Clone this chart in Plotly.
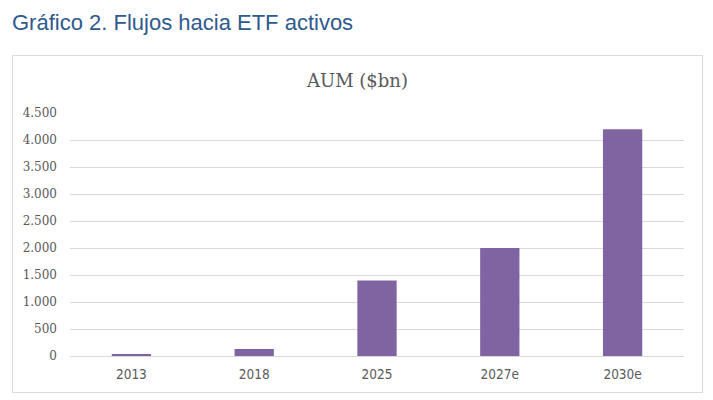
import plotly.graph_objects as go

years = ["2013", "2018", "2025", "2027e", "2030e"]
aum = [20, 130, 1400, 2000, 4200]
y_ticks = [0, 500, 1000, 1500, 2000, 2500, 3000, 3500, 4000, 4500]

# the page body has an 8px margin, so the figure is drawn 8px smaller and
# every reference coordinate is shifted by that offset
OFF = 8
W, H = 713 - OFF, 400 - OFF
ml, mr, mt, mb = 70 - OFF, 29, 113 - OFF, 44
pw, ph = W - ml - mr, H - mt - mb

def px(x):
    return (x - OFF - ml) / pw

def py(y):
    return (H - mb - (y - OFF)) / ph

fig = go.Figure()
fig.add_trace(go.Bar(x=years, y=aum, marker_color="#8064A2",
                     marker_line_width=0))

fig.update_layout(
    width=W, height=H,
    margin=dict(l=ml, r=mr, t=mt, b=mb),
    paper_bgcolor="white", plot_bgcolor="white",
    separators=",.",
    bargap=0.68,
    showlegend=False,
    font=dict(family="DejaVu Sans Condensed", color="#595959", size=12),
)
fig.update_yaxes(range=[0, 4500], tickvals=y_ticks, tickformat=",d",
                 showgrid=True, gridcolor="#D9D9D9", gridwidth=1,
                 zeroline=False, showline=False, ticklabelstandoff=12,
                 tickfont=dict(family="DejaVu Serif", size=12, color="#595959"))
fig.update_xaxes(showgrid=False, showline=True, linecolor="#D9D9D9",
                 linewidth=1, ticks="", ticklabelstandoff=6,
                 tickfont=dict(family="DejaVu Sans Condensed", size=13.5,
                               color="#595959"))

# chart frame
fig.add_shape(type="rect", xref="paper", yref="paper",
              x0=px(12.5), x1=px(702.5), y0=py(392.5), y1=py(55.5),
              line=dict(color="#D9D9D9", width=1), layer="below")

fig.add_annotation(text="AUM ($bn)", xref="paper", yref="paper",
                   x=px(357), y=py(80), yanchor="middle", showarrow=False,
                   font=dict(family="DejaVu Serif", size=18, color="#595959"))
fig.add_annotation(text="Gráfico 2. Flujos hacia ETF activos",
                   xref="paper", yref="paper", x=px(10), y=py(23),
                   xanchor="left", yanchor="middle", showarrow=False,
                   font=dict(family="Liberation Sans", size=22, color="#2E5A8E"))

fig.write_html("out.html")
